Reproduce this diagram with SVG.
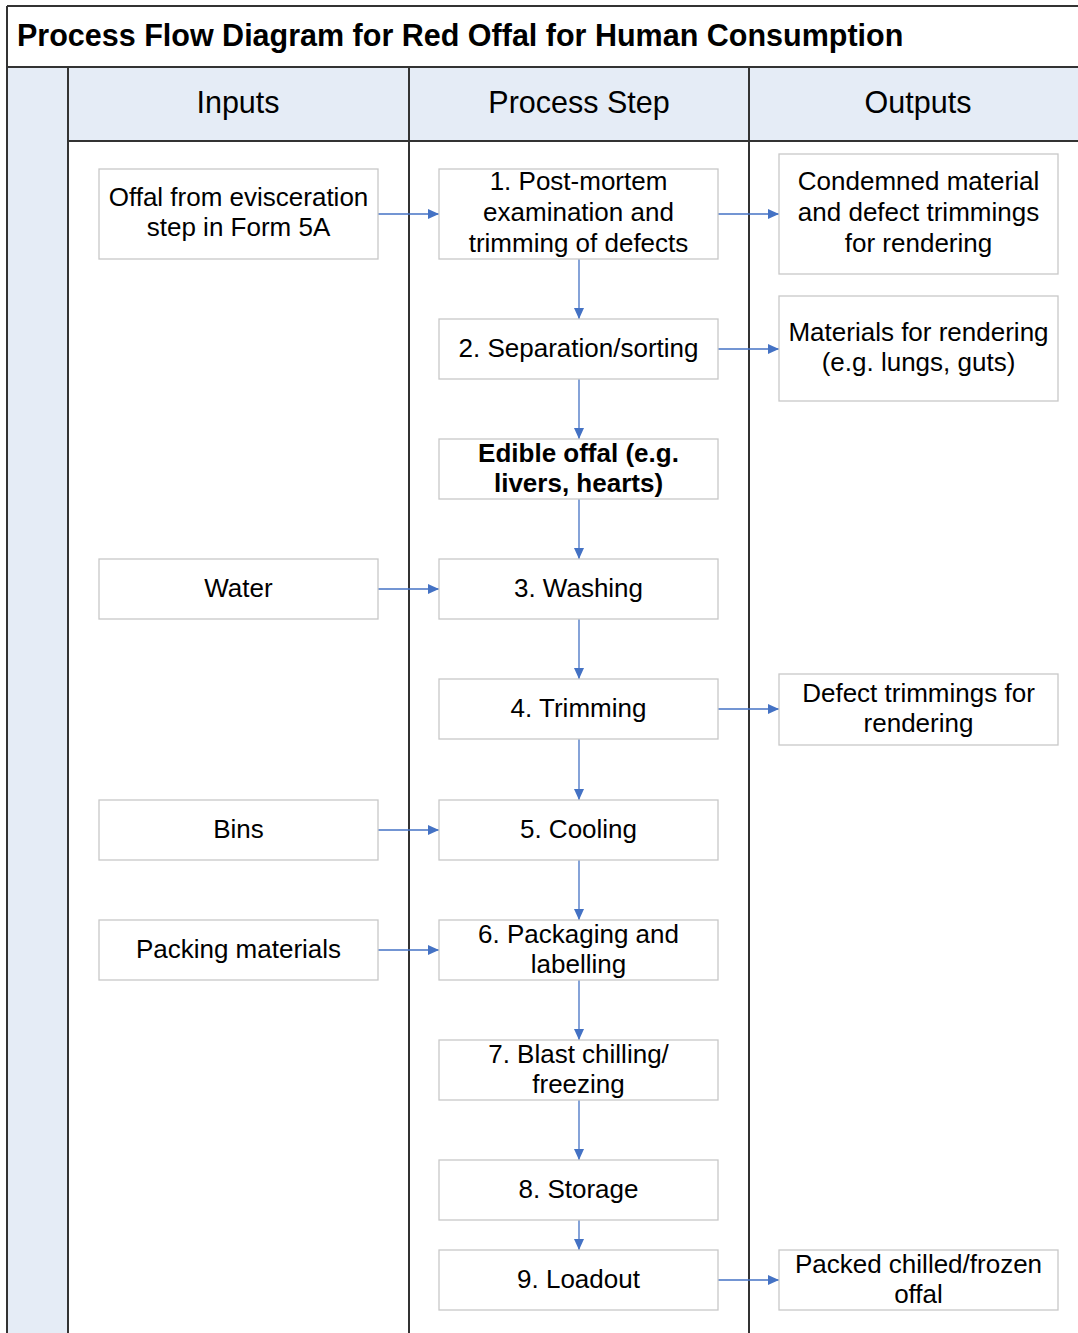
<svg xmlns="http://www.w3.org/2000/svg" width="1078" height="1333" viewBox="0 0 1078 1333">
<defs>
<marker id="ah" markerWidth="12" markerHeight="12" refX="11" refY="6" orient="auto" markerUnits="userSpaceOnUse">
<path d="M0,1 L11,6 L0,11 z" fill="#4472C4"/>
</marker>
<style>
.box{fill:#fff;stroke:#c8c8c8;stroke-width:1.3}
.t{font-family:"Liberation Sans",Arial,sans-serif;font-size:26px;fill:#000;text-anchor:middle}
.b{font-weight:bold}
.h{font-family:"Liberation Sans",Arial,sans-serif;font-size:30.5px;fill:#000;text-anchor:middle}
.c{stroke:#4472C4;stroke-width:1.3;fill:none;marker-end:url(#ah)}
.ln{stroke:#333;stroke-width:2;fill:none}
</style>
</defs>
<rect x="0" y="0" width="1078" height="1333" fill="#fff"/>
<g id="frame">
<rect x="7" y="67" width="61" height="1266" fill="#E5ECF6"/>
<rect x="68" y="67" width="1010" height="74" fill="#E5ECF6"/>
<line class="ln" x1="7" y1="6" x2="1078" y2="6"/>
<line class="ln" x1="7" y1="6" x2="7" y2="1333"/>
<line class="ln" x1="7" y1="67" x2="1078" y2="67"/>
<line class="ln" x1="68" y1="141" x2="1078" y2="141"/>
<line class="ln" x1="68" y1="67" x2="68" y2="1333"/>
<line class="ln" x1="409" y1="67" x2="409" y2="1333"/>
<line class="ln" x1="749" y1="67" x2="749" y2="1333"/>
<text x="17" y="46" font-family="Liberation Sans,Arial,sans-serif" font-size="30.5" font-weight="bold">Process Flow Diagram for Red Offal for Human Consumption</text>
<text class="h" x="238" y="113">Inputs</text>
<text class="h" x="579" y="113">Process Step</text>
<text class="h" x="918" y="113">Outputs</text>
</g>
<g id="connectors">
<line class="c" x1="378" y1="214" x2="439" y2="214"/>
<line class="c" x1="718" y1="214" x2="779" y2="214"/>
<line class="c" x1="579" y1="259" x2="579" y2="319"/>
<line class="c" x1="718" y1="349" x2="779" y2="349"/>
<line class="c" x1="579" y1="379" x2="579" y2="439"/>
<line class="c" x1="579" y1="499" x2="579" y2="559"/>
<line class="c" x1="378" y1="589" x2="439" y2="589"/>
<line class="c" x1="579" y1="619" x2="579" y2="679"/>
<line class="c" x1="718" y1="709" x2="779" y2="709"/>
<line class="c" x1="579" y1="739" x2="579" y2="800"/>
<line class="c" x1="378" y1="830" x2="439" y2="830"/>
<line class="c" x1="579" y1="860" x2="579" y2="920"/>
<line class="c" x1="378" y1="950" x2="439" y2="950"/>
<line class="c" x1="579" y1="980" x2="579" y2="1040"/>
<line class="c" x1="579" y1="1100" x2="579" y2="1160"/>
<line class="c" x1="579" y1="1220" x2="579" y2="1250"/>
<line class="c" x1="718" y1="1280" x2="779" y2="1280"/>
</g>
<g id="in1"><rect class="box" x="99" y="169" width="279" height="90"/><text class="t" x="238.5" y="206">Offal from evisceration</text><text class="t" x="238.5" y="236">step in Form 5A</text></g>
<g id="p1"><rect class="box" x="439" y="169" width="279" height="90"/><text class="t" x="578.5" y="190">1. Post-mortem</text><text class="t" x="578.5" y="221">examination and</text><text class="t" x="578.5" y="252">trimming of defects</text></g>
<g id="out1"><rect class="box" x="779" y="154" width="279" height="120"/><text class="t" x="918.5" y="190">Condemned material</text><text class="t" x="918.5" y="221">and defect trimmings</text><text class="t" x="918.5" y="252">for rendering</text></g>
<g id="p2"><rect class="box" x="439" y="319" width="279" height="60"/><text class="t" x="578.5" y="357">2. Separation/sorting</text></g>
<g id="out2"><rect class="box" x="779" y="296" width="279" height="105"/><text class="t" x="918.5" y="341">Materials for rendering</text><text class="t" x="918.5" y="371">(e.g. lungs, guts)</text></g>
<g id="edible"><rect class="box" x="439" y="439" width="279" height="60"/><text class="t b" x="578.5" y="462">Edible offal (e.g.</text><text class="t b" x="578.5" y="492">livers, hearts)</text></g>
<g id="in3"><rect class="box" x="99" y="559" width="279" height="60"/><text class="t" x="238.5" y="597">Water</text></g>
<g id="p3"><rect class="box" x="439" y="559" width="279" height="60"/><text class="t" x="578.5" y="597">3. Washing</text></g>
<g id="p4"><rect class="box" x="439" y="679" width="279" height="60"/><text class="t" x="578.5" y="717">4. Trimming</text></g>
<g id="out4"><rect class="box" x="779" y="674" width="279" height="71"/><text class="t" x="918.5" y="702">Defect trimmings for</text><text class="t" x="918.5" y="732">rendering</text></g>
<g id="in5"><rect class="box" x="99" y="800" width="279" height="60"/><text class="t" x="238.5" y="838">Bins</text></g>
<g id="p5"><rect class="box" x="439" y="800" width="279" height="60"/><text class="t" x="578.5" y="838">5. Cooling</text></g>
<g id="in6"><rect class="box" x="99" y="920" width="279" height="60"/><text class="t" x="238.5" y="958">Packing materials</text></g>
<g id="p6"><rect class="box" x="439" y="920" width="279" height="60"/><text class="t" x="578.5" y="943">6. Packaging and</text><text class="t" x="578.5" y="973">labelling</text></g>
<g id="p7"><rect class="box" x="439" y="1040" width="279" height="60"/><text class="t" x="578.5" y="1063">7. Blast chilling/</text><text class="t" x="578.5" y="1093">freezing</text></g>
<g id="p8"><rect class="box" x="439" y="1160" width="279" height="60"/><text class="t" x="578.5" y="1198">8. Storage</text></g>
<g id="p9"><rect class="box" x="439" y="1250" width="279" height="60"/><text class="t" x="578.5" y="1288">9. Loadout</text></g>
<g id="out9"><rect class="box" x="779" y="1250" width="279" height="60"/><text class="t" x="918.5" y="1273">Packed chilled/frozen</text><text class="t" x="918.5" y="1303">offal</text></g>
</svg>
